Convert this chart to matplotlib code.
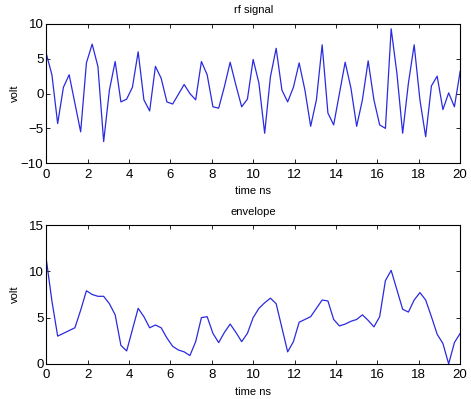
import numpy as np
import matplotlib
matplotlib.use('Agg')
import matplotlib.pyplot as plt

plt.rcParams['font.family'] = ['Liberation Sans', 'DejaVu Sans']

# sampled time axis, 73 samples over 0..20 ns
t = np.linspace(0, 20, 73)

rf = [5.8, 2.7, -4.3, 0.9, 2.7, -1.4, -5.5, 4.4, 7.1, 3.9,
      -6.9, 0.5, 4.6, -1.2, -0.8, 0.9, 6.0, -0.9, -2.5, 3.9,
      2.2, -1.2, -1.5, -0.1, 1.3, 0.0, -0.9, 4.6, 2.7, -1.9,
      -2.1, 1.0, 4.5, 1.2, -1.9, -0.8, 4.9, 1.5, -5.7, 2.4,
      6.5, 0.5, -1.2, 0.9, 4.4, 0.5, -4.7, -0.9, 7.0, -2.8,
      -4.5, 0.0, 4.5, 0.8, -4.7, -0.9, 4.7, -0.9, -4.5, -5.0,
      9.3, 2.9, -5.7, 1.5, 7.0, -0.9, -6.2, 1.1, 2.5, -2.3,
      0.1, -1.9, 3.2]

envelope = [11.4, 6.8, 3.0, 3.3, 3.6, 3.9, 5.8, 7.9, 7.5, 7.3,
            7.3, 6.5, 5.3, 2.0, 1.4, 3.7, 6.0, 5.1, 3.9, 4.2,
            3.9, 2.8, 1.9, 1.5, 1.3, 0.9, 2.4, 5.0, 5.1, 3.3,
            2.3, 3.4, 4.3, 3.4, 2.4, 3.3, 5.0, 6.0, 6.6, 7.1,
            6.5, 3.9, 1.3, 2.4, 4.5, 4.8, 5.1, 6.0, 6.9, 6.8,
            4.8, 4.1, 4.3, 4.6, 4.8, 5.3, 4.7, 4.0, 5.1, 9.0,
            10.1, 8.0, 5.9, 5.6, 6.9, 7.7, 6.9, 5.1, 3.2, 2.2,
            0.0, 2.3, 3.3]

xticks = np.arange(0, 21, 2)
line_color = '#2a2ae0'

fig = plt.figure(figsize=(4.71, 3.99), dpi=100)
fig.patch.set_facecolor('white')

ax1 = fig.add_axes([0.098, 0.591, 0.879, 0.349])
ax2 = fig.add_axes([0.098, 0.088, 0.879, 0.348])

def style(ax):
    ax.tick_params(direction='in', top=True, right=True, labelsize=9.5,
                   length=3, width=0.6)
    ax.tick_params(axis='x', pad=4)
    ax.tick_params(axis='y', pad=2)
    for s in ax.spines.values():
        s.set_linewidth(0.8)
    ax.set_xlim(0, 20)
    ax.set_xticks(xticks)
    ax.set_xlabel('time ns', fontsize=8, labelpad=4)
    ax.set_ylabel('volt', fontsize=8)
    # both y labels sit at the same distance from the axes
    ax.yaxis.set_label_coords(-0.063, 0.5)

ax1.plot(t, rf, color=line_color, linewidth=0.9)
style(ax1)
ax1.set_ylim(-10, 10)
ax1.set_yticks([-10, -5, 0, 5, 10])
ax1.set_title('rf signal', fontsize=8, pad=8)

ax2.plot(t, envelope, color=line_color, linewidth=0.9)
style(ax2)
ax2.set_ylim(0, 15)
ax2.set_yticks([0, 5, 10, 15])
ax2.set_title('envelope', fontsize=8, pad=7)

fig.savefig('out.png', dpi=100, facecolor='white')
